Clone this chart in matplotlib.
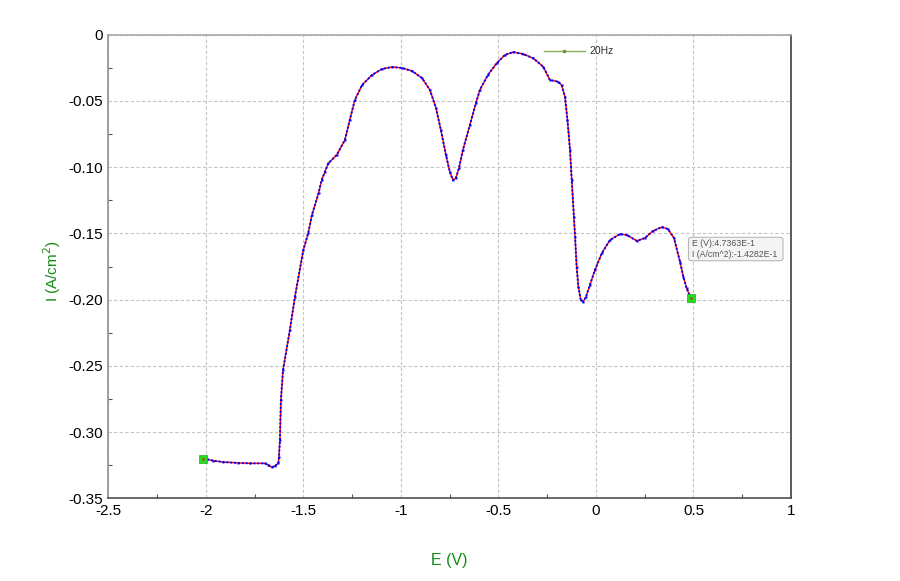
import matplotlib
matplotlib.use("Agg")
import matplotlib.pyplot as plt
from matplotlib.patches import FancyBboxPatch

plt.rcParams['font.family'] = ['Liberation Sans', 'DejaVu Sans']

# Potential (V) and current density (A/cm^2)
E = [-2.013, -1.996, -1.962, -1.910, -1.834, -1.774, -1.697, -1.680, -1.662, -1.645,
     -1.628, -1.625, -1.620, -1.615, -1.604, -1.569, -1.543, -1.500, -1.475, -1.456,
     -1.422, -1.406, -1.389, -1.372, -1.329, -1.287, -1.262, -1.236, -1.199, -1.148,
     -1.097, -1.045, -0.994, -0.943, -0.892, -0.851, -0.820, -0.795, -0.769, -0.749,
     -0.733, -0.718, -0.702, -0.682, -0.646, -0.615, -0.595, -0.554, -0.509, -0.467,
     -0.424, -0.373, -0.321, -0.270, -0.236, -0.193, -0.176, -0.159, -0.146, -0.133,
     -0.124, -0.113, -0.107, -0.099, -0.090, -0.078, -0.065, -0.051, -0.031, -0.005,
     0.030, 0.072, 0.123, 0.159, 0.210, 0.251, 0.292, 0.338, 0.369, 0.400,
     0.431, 0.448, 0.465, 0.487]
I = [-0.3203, -0.3205, -0.3216, -0.3226, -0.3233, -0.3236, -0.3236, -0.3248, -0.3266, -0.3254,
     -0.3236, -0.3186, -0.3060, -0.2758, -0.2531, -0.2229, -0.1978, -0.1625, -0.1499, -0.1361,
     -0.1197, -0.1097, -0.1034, -0.0971, -0.0908, -0.0795, -0.0644, -0.0493, -0.0380, -0.0304,
     -0.0259, -0.0244, -0.0251, -0.0274, -0.0327, -0.0417, -0.0553, -0.0719, -0.0908, -0.1036,
     -0.1097, -0.1082, -0.1006, -0.0870, -0.0681, -0.0515, -0.0417, -0.0304, -0.0216, -0.0153,
     -0.0131, -0.0146, -0.0178, -0.0242, -0.0342, -0.0355, -0.0380, -0.0468, -0.0644, -0.0870,
     -0.1097, -0.1374, -0.1525, -0.1751, -0.1902, -0.2003, -0.2016, -0.1978, -0.1890, -0.1776,
     -0.1650, -0.1550, -0.1505, -0.1512, -0.1557, -0.1535, -0.1482, -0.1452, -0.1467, -0.1535,
     -0.1714, -0.1827, -0.1915, -0.1990]

x_ticks = [-2.5, -2, -1.5, -1, -0.5, 0, 0.5, 1]
x_ticklabels = ["-2.5", "-2", "-1.5", "-1", "-0.5", "0", "0.5", "1"]
y_ticks = [0, -0.05, -0.10, -0.15, -0.20, -0.25, -0.30, -0.35]
y_ticklabels = ["0", "-0.05", "-0.10", "-0.15", "-0.20", "-0.25", "-0.30", "-0.35"]
series_name = "20Hz"
tooltip_lines = ["E (V):4.7363E-1", "I (A/cm^2):-1.4282E-1"]

fig = plt.figure(figsize=(9, 5.81), dpi=100)
ax = fig.add_axes([0.1203, 0.1423, 0.7586, 0.7980])

ax.set_xlim(-2.5, 1)
ax.set_ylim(-0.35, 0)
ax.set_xticks(x_ticks)
ax.set_xticklabels(x_ticklabels)
ax.set_yticks(y_ticks)
ax.set_yticklabels(y_ticklabels)
ax.set_xticks([v + 0.25 for v in x_ticks[:-1]], minor=True)
ax.set_yticks([v - 0.025 for v in y_ticks[:-1]], minor=True)
ax.tick_params(which='major', length=0, labelsize=11, pad=4, colors='black')
ax.tick_params(which='minor', direction='in', length=3, width=0.8, color='#555555')

ax.grid(True, which='major', color='#c4c4c4', linestyle=(0, (3, 2)), linewidth=0.8)
ax.set_axisbelow(True)

ax.spines['top'].set_color('#a8a8a8')
ax.spines['left'].set_color('#909090')
ax.spines['right'].set_color('#404040')
ax.spines['bottom'].set_color('#505050')
for s in ax.spines.values():
    s.set_linewidth(1.2)

# curve: red line with blue sample points
ax.plot(E, I, color='red', lw=1.0, zorder=3)
ax.plot(E, I, color='blue', lw=1.4, linestyle=(0, (1, 1.0)), zorder=4)
ax.plot(E, I, linestyle='none', marker='s', ms=1.8, color='blue', mec='none', zorder=5)

# end point markers
for xe, ye in [(E[0], I[0]), (E[-1], I[-1])]:
    ax.plot([xe], [ye], marker='s', ms=6, color='#22dd22', mec='#22aa22', mew=0.5, zorder=6)
    ax.plot([xe], [ye], marker='s', ms=1.5, color='red', mec='none', zorder=7)

ax.set_xlabel("E (V)", color='#138a13', fontsize=11.5, labelpad=6)
ax.xaxis.set_label_coords(0.5, -0.118)
ax.set_ylabel("I (A/cm$^{2}$)", color='#138a13', fontsize=11)
ax.yaxis.set_label_coords(-0.066, 0.49)

# legend (drawn manually at the reference position, in axes coordinates)
leg_y = 1 - (51 - 34.7) / 463.6
ax.plot([(544 - 108.3) / 683, (585 - 108.3) / 683], [leg_y, leg_y], color='#8db05a', lw=1.0,
        transform=ax.transAxes, clip_on=False, zorder=8)
ax.plot([(564.5 - 108.3) / 683], [leg_y], marker='o', ms=1.6, color='#6a9a3a',
        transform=ax.transAxes, clip_on=False, zorder=8)
ax.text((590 - 108.3) / 683, leg_y, series_name, fontsize=7.5, color='#333333',
        va='center', ha='left', transform=ax.transAxes)

# tooltip box
box = FancyBboxPatch((688.5 / 900, 1 - 260.7 / 581), (783 - 688.5) / 900, (260.7 - 237.3) / 581,
                     boxstyle="round,pad=0,rounding_size=0.004", transform=fig.transFigure,
                     facecolor='#f4f4f4', edgecolor='#b8b8b8', lw=0.8, zorder=10)
fig.patches.append(box)
fig.text(692.5 / 900, 1 - 243 / 581, tooltip_lines[0], fontsize=6.3, color='#555555', va='center', zorder=11)
fig.text(692.5 / 900, 1 - 254.5 / 581, tooltip_lines[1], fontsize=6.3, color='#555555', va='center', zorder=11)

fig.savefig("out.png", dpi=100)
